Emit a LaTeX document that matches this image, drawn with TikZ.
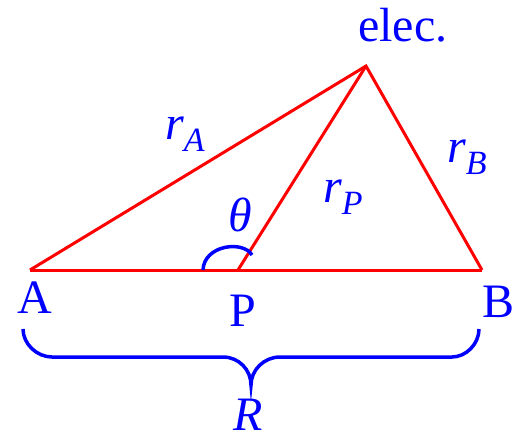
\documentclass[tikz,border=0pt]{standalone}
\usepackage{fontspec}
\setmainfont{Liberation Serif}
\newcommand\mysubscr[1]{\raisebox{-12pt}{\fontsize{34}{34}\selectfont\itshape #1}}
\begin{document}
\begin{tikzpicture}[x=1pt,y=-1pt,
  lbl/.style={text=blue, inner sep=0pt, anchor=base west, font=\fontsize{48}{50}\selectfont},
  edge/.style={red, line width=3pt, line join=miter},
  blueline/.style={blue, line width=3.5pt}]
\useasboundingbox (0,0) rectangle (513,440);
\coordinate (A) at (30,270);
\coordinate (P) at (238,270);
\coordinate (B) at (482,270);
\coordinate (E) at (366,66);
\draw[edge] (A) -- (B);
\draw[edge] (A) -- (E) -- (B);
\draw[edge] (P) -- (E);
% angle arc
\coordinate (arcL) at (203,270);
\coordinate (arcR) at (252,255);
\draw[blueline] (arcL) .. controls (204,245) and (243,240) .. (arcR);
% brace
\coordinate (brL) at (23,329);
\coordinate (brR) at (479,329);
\coordinate (brM) at (251,385);
\draw[blueline] (brL) .. controls (23,344) and (37,357) .. (52,357) -- (223,357)
  .. controls (239,357) and (251,370) .. (brM)
  .. controls (251,370) and (264,357) .. (280,357) -- (452,357)
  .. controls (466,357) and (479,344) .. (brR);
% labels
\node[lbl] (lelec) at (358,41) {elec.};
\node[lbl] (lrA) at (165,139) {\itshape r\mysubscr{A}};
\node[lbl] (lrB) at (447,162) {\itshape r\mysubscr{B}};
\node[lbl] (lrP) at (323,202) {\itshape r\mysubscr{P}};
\node[lbl] (ltheta) at (228,231) {\itshape θ};
\node[lbl] (lA) at (17,313) {A};
\node[lbl] (lP) at (229,326) {P};
\node[lbl] (lB) at (482,317) {B};
\node[lbl, text depth=0pt] (lR) at (233,430) {\itshape R};
\end{tikzpicture}
\end{document}
